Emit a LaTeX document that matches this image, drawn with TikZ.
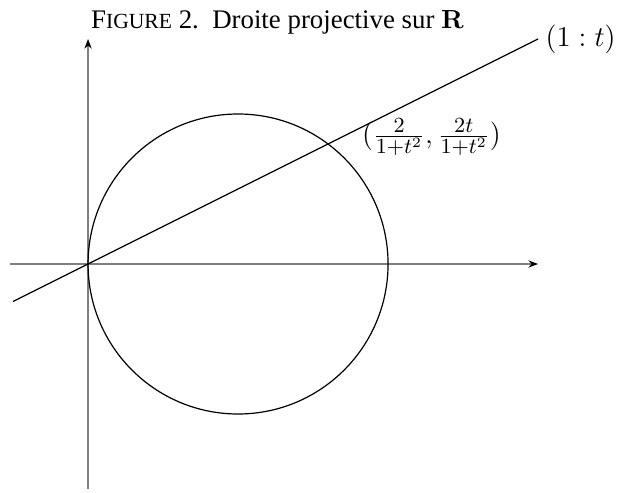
\documentclass[tikz,border=0pt]{standalone}
\usepackage[no-math]{fontspec}
\setmainfont{Liberation Serif}
\usepackage{amsmath,amssymb}
\usetikzlibrary{arrows.meta,positioning}
\tikzset{
  axis/.style={draw=gray, line width=0.6pt, -{Stealth[length=4pt, width=3pt, black]}},
  curve/.style={line width=0.5pt},
  lbl/.style={inner sep=3pt, font=\fontsize{12.4}{14}\selectfont}
}
\begin{document}
\begin{tikzpicture}[x=2.2cm,y=2.2cm]
  \useasboundingbox (-0.587,-1.52) rectangle (3.553,1.76);
  \node[anchor=base, inner sep=0pt, font=\fontsize{11.2}{13}\selectfont] (title) at (1.263,1.573)
    {F{\fontsize{9}{10}\selectfont IGURE} 2.\ \ Droite projective sur $\mathbf{R}$};
  % axes
  \coordinate (xl) at (-0.52,0);
  \coordinate (xr) at (3,0);
  \coordinate (yb) at (0,-1.5);
  \coordinate (yt) at (0,1.5);
  \draw[axis] (xl) -- (xr);
  \draw[axis] (yb) -- (yt);
  % circle and line
  \coordinate (C) at (1,0);
  \draw[curve] (C) circle (1);
  \coordinate (ls) at (-0.5,-0.25);
  \coordinate (le) at (3,1.5);
  \draw[curve] (ls) -- (le);
  \coordinate (P) at (1.6,0.8);
  \node[lbl, right=0pt of le] (dir) {$(1:t)$};
  \node[lbl, right=11pt of P, yshift=3pt] (pt) {$(\frac{2}{1+t^2},\frac{2t}{1+t^2})$};
\end{tikzpicture}
\end{document}
